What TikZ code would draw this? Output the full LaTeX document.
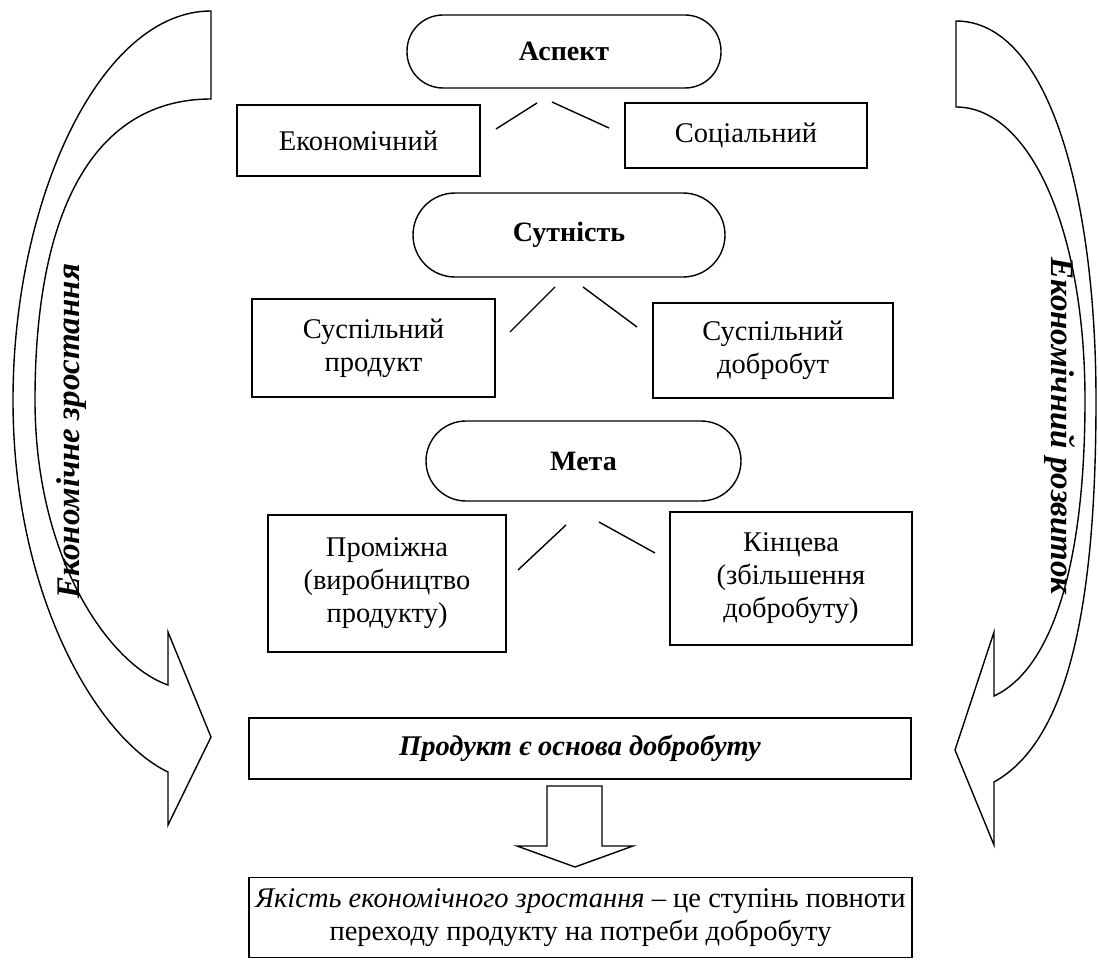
\documentclass[tikz,border=0pt]{standalone}
\usepackage{fontspec}
\setmainfont{Liberation Serif}
\begin{document}
\begin{tikzpicture}[x=1pt,y=-1pt,line width=1.4pt,
  txt/.style={font=\fontsize{28.5}{33}\selectfont},
  pill/.style={draw,rounded corners=36pt,inner sep=0pt,txt,font=\fontsize{28}{33}\selectfont\bfseries},
  box/.style={draw,inner sep=0pt,align=center,txt},
  side/.style={font=\fontsize{33}{38}\selectfont\bfseries\itshape},
  link/.style={line width=1.4pt},
  bigarrow/.style={draw,fill=white,line width=1.4pt,line join=miter}]
\useasboundingbox (0,0) rectangle (1098,960);

% curved arrows
\draw[bigarrow] (211,11) -- (211,99) .. controls (100,99) and (35,200) .. (35,400)
  .. controls (35,560) and (110,665) .. (168,685) -- (168,632) -- (211,737) -- (168,825) -- (168,772)
  .. controls (100,740) and (13,600) .. (13,400) .. controls (13,200) and (100,11) .. (211,11) -- cycle;
\draw[bigarrow] (956,21) -- (956,107) .. controls (1030,107) and (1085,230) .. (1085,400)
  .. controls (1085,570) and (1050,670) .. (994,696) -- (994,632) -- (955,750) -- (994,845) -- (994,782)
  .. controls (1070,740) and (1096,600) .. (1096,400) .. controls (1096,200) and (1050,21) .. (956,21) -- cycle;

\node[rotate=90,side] (growth) at (72,431) {Економічне зростання};
\node[rotate=-90,side] (devel) at (1060,426) {Економічний розвиток};

% aspect
\node[pill,minimum width=314pt,minimum height=73pt] (aspect) at (564,51.5) {Аспект};
\node[box,minimum width=243pt,minimum height=71pt] (econ) at (358.5,140.5) {Економічний};
\node[box,minimum width=242pt,minimum height=65pt] (soc) at (746,135.5) {Соціальний};
\coordinate (a1) at (496,129); \coordinate (a2) at (537,103);
\coordinate (a3) at (552,102); \coordinate (a4) at (609,128);
\draw[link] (a1) -- (a2);
\draw[link] (a3) -- (a4);

% essence
\node[pill,minimum width=312pt,minimum height=84pt,rounded corners=42pt] (essence) at (569,235) {Сутність};
\node[box,minimum width=243pt,minimum height=98pt] (prod) at (373.5,348) {Суспільний\\продукт};
\node[box,minimum width=240pt,minimum height=95pt] (wel) at (773,350.5) {Суспільний\\добробут};
\coordinate (s1) at (510,332); \coordinate (s2) at (555,287);
\coordinate (s3) at (583,287); \coordinate (s4) at (637,327);
\draw[link] (s1) -- (s2);
\draw[link] (s3) -- (s4);

% goal
\node[pill,minimum width=315pt,minimum height=80pt,rounded corners=40pt] (goal) at (583.5,461) {Мета};
\node[box,minimum width=238pt,minimum height=137pt] (inter) at (387,583.5) {Проміжна\\(виробництво\\продукту)};
\node[box,minimum width=242pt,minimum height=133pt] (final) at (791,578.5) {Кінцева\\(збільшення\\добробуту)};
\coordinate (m1) at (518,570); \coordinate (m2) at (566,525);
\coordinate (m3) at (599,522); \coordinate (m4) at (655,553);
\draw[link] (m1) -- (m2);
\draw[link] (m3) -- (m4);

% product basis
\node[box,minimum width=662pt,minimum height=61pt,font=\fontsize{28.5}{33}\selectfont\bfseries\itshape] (basis) at (580,748.5) {Продукт є основа добробуту};

% down arrow
\draw[bigarrow] (547,786) -- (602,786) -- (602,846) -- (633,846) -- (575,867) -- (517,846) -- (547,846) -- cycle;

% quality
\node[box,minimum width=663pt,minimum height=80pt] (quality) at (580.5,917.5) {{\itshape Якість економічного зростання} – це ступінь повноти\\переходу продукту на потреби добробуту};
\end{tikzpicture}
\end{document}
